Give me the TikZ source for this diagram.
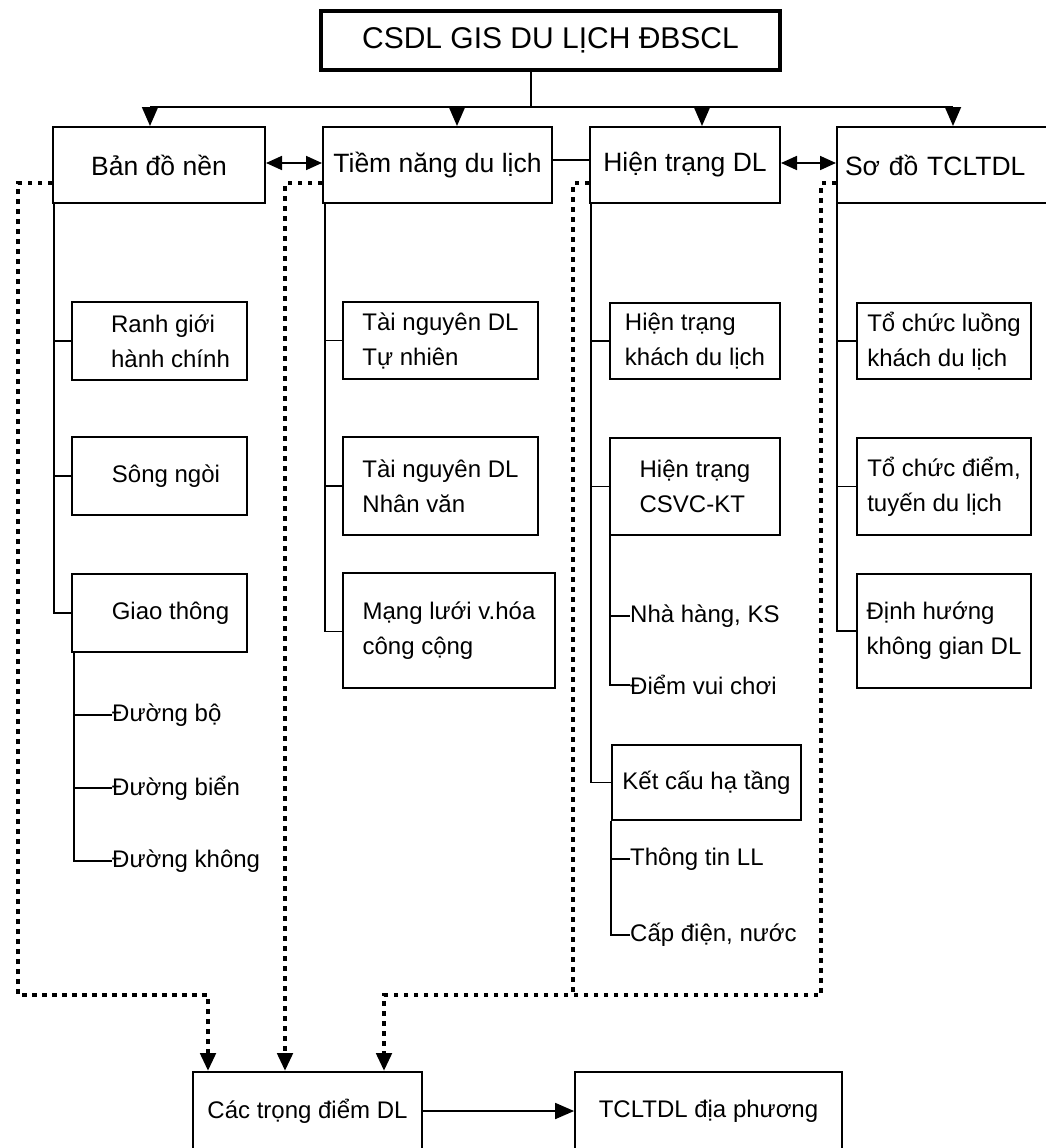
\documentclass[tikz,border=0pt]{standalone}
\usepackage{fontspec}
\setmainfont{Liberation Sans}
\usetikzlibrary{arrows.meta}
\newcommand\indl[1]{\hspace*{#1pt}}

\begin{document}
\begin{tikzpicture}[x=1pt,y=-1pt,
    box/.style={draw, line width=2pt, inner sep=0pt, align=center, font=\fontsize{26.5}{32}\selectfont},
    subbox/.style={draw, line width=1.8pt, inner sep=0pt, align=left, font=\fontsize{24}{35}\selectfont},
    leaf/.style={anchor=west, inner sep=0pt, font=\fontsize{24}{30}\selectfont},
    link/.style={line width=1.8pt},
    arr/.style={line width=1.8pt, -{Triangle[length=19pt,width=16pt]}},
    twoway/.style={line width=1.8pt, {Triangle[length=16pt,width=14pt]}-{Triangle[length=16pt,width=14pt]}},
    dotline/.style={line width=4.5pt, dash pattern=on 4.5pt off 5.5pt},
    dotarr/.style={dotline, -{Triangle[length=18pt,width=15pt]}}]
  \useasboundingbox (0,0) rectangle (1046,1148);
  \clip (0,0) rectangle (1046,1148);

  % Tieu de
  \node[draw, line width=3.5pt, inner sep=0pt, minimum width=459pt, minimum height=59pt,
        font=\fontsize{30}{36}\selectfont] (title) at (550.5,40.5) {CSDL GIS DU LỊCH ĐBSCL};

  % Bon nhom chinh
  \node[box, minimum width=212pt, minimum height=76pt] (bdn) at (159,165) {Bản đồ nền};
  \node[box, minimum width=229pt, minimum height=76pt] (tn) at (437.5,165) {Tiềm năng du lịch};
  \node[box, minimum width=190pt, minimum height=76pt] (ht) at (685,165) {Hiện trạng DL};
  \node[box, minimum width=223pt, minimum height=76pt, text width=207pt, align=left] (sd) at (948.5,165) {Sơ đồ TCLTDL};

  % Cot 1
  \node[subbox, minimum width=175pt, minimum height=78pt] (rg) at (159.5,341) {\indl{22}Ranh giới\\\indl{22}hành chính};
  \node[subbox, minimum width=175pt, minimum height=78pt] (sn) at (159.5,476) {\indl{13}Sông ngòi};
  \node[subbox, minimum width=175pt, minimum height=78pt] (gt) at (159.5,613) {\indl{22}Giao thông};
  \node[leaf] (db) at (112,715) {Đường bộ};
  \node[leaf] (dbi) at (112,788) {Đường biển};
  \node[leaf] (dk) at (112,861) {Đường không};

  % Cot 2
  \node[subbox, minimum width=195pt, minimum height=77pt] (tn1) at (440.5,340.5) {Tài nguyên DL\\Tự nhiên};
  \node[subbox, minimum width=195pt, minimum height=98pt] (tn2) at (440.5,486) {Tài nguyên DL\\Nhân văn};
  \node[subbox, minimum width=212pt, minimum height=115pt] (mv) at (449,630.5) {Mạng lưới v.hóa\\công cộng};

  % Cot 3
  \node[subbox, minimum width=170pt, minimum height=76pt] (hk) at (695,341) {Hiện trạng\\khách du lịch};
  \node[subbox, minimum width=170pt, minimum height=97pt] (hc) at (695,486.5) {Hiện trạng\\CSVC-KT};
  \node[leaf] (nh) at (630,616) {Nhà hàng, KS};
  \node[leaf] (dv) at (630,685) {Điểm vui chơi};
  \node[subbox, minimum width=189pt, minimum height=75pt] (kc) at (706.5,782.5) {Kết cấu hạ tầng};
  \node[leaf] (tt) at (630,859) {Thông tin LL};
  \node[leaf] (cd) at (630,935) {Cấp điện, nước};

  % Cot 4
  \node[subbox, minimum width=174pt, minimum height=76pt] (tc1) at (944,341) {Tổ chức luồng\\khách du lịch};
  \node[subbox, minimum width=174pt, minimum height=97pt] (tc2) at (944,486.5) {Tổ chức điểm,\\tuyến du lịch};
  \node[subbox, minimum width=174pt, minimum height=114pt] (dh) at (944,631) {Định hướng\\không gian DL};

  % Ket qua
  \node[subbox, align=center, minimum width=229pt, minimum height=78pt] (ctd) at (307.5,1111) {Các trọng điểm DL};
  \node[subbox, align=center, minimum width=267pt, minimum height=78pt] (tcl) at (708.5,1111) {TCLTDL địa phương};

  % Thanh phan nhanh tu tieu de
  \coordinate (hub) at (531,107);
  \coordinate (a1) at (150,107);
  \coordinate (a2) at (457,107);
  \coordinate (a3) at (702,107);
  \coordinate (a4) at (953,107);
  \draw[link] (title.south -| hub) -- (hub);
  \draw[link] (a1) -- (a4);
  \draw[arr] (a1) -- (a1 |- bdn.north);
  \draw[arr] (a2) -- (a2 |- tn.north);
  \draw[arr] (a3) -- (a3 |- ht.north);
  \draw[arr] (a4) -- (a4 |- sd.north);

  \draw[twoway] ([yshift=2pt]bdn.east) -- ([yshift=2pt]tn.west);
  \draw[link] ([yshift=5pt]tn.east) -- ([yshift=5pt]ht.west);
  \draw[twoway] ([yshift=2pt]ht.east) -- ([yshift=2pt]sd.west);

  % Cay con
  \draw[link] ([xshift=2pt]bdn.south west) |- (rg.west);
  \draw[link] ([xshift=2pt]bdn.south west) |- (sn.west);
  \draw[link] ([xshift=2pt]bdn.south west) |- (gt.west);
  \draw[link] ([xshift=3pt]gt.south west) |- (db.west);
  \draw[link] ([xshift=3pt]gt.south west) |- (dbi.west);
  \draw[link] ([xshift=3pt]gt.south west) |- (dk.west);

  \draw[link] ([xshift=3pt]tn.south west) |- (tn1.west);
  \draw[link] ([xshift=3pt]tn.south west) |- (tn2.west);
  \draw[link] ([xshift=3pt]tn.south west) |- ([yshift=-1pt]mv.west);

  \draw[link] ([xshift=2pt]ht.south west) |- (hk.west);
  \draw[link] ([xshift=2pt]ht.south west) |- (hc.west);
  \draw[link] ([xshift=2pt]ht.south west) |- (kc.west);
  \draw[link] ([xshift=1pt]hc.south west) |- (nh.west);
  \draw[link] ([xshift=1pt]hc.south west) |- (dv.west);
  \draw[link] (kc.south west) |- (tt.west);
  \draw[link] (kc.south west) |- (cd.west);

  \draw[link] ([xshift=1pt]sd.south west) |- (tc1.west);
  \draw[link] ([xshift=1pt]sd.south west) |- (tc2.west);
  \draw[link] ([xshift=1pt]sd.south west) |- (dh.west);

  % Duong cham
  \coordinate (c1) at (18,995);
  \coordinate (c2) at (285,995);
  \coordinate (c3) at (573,995);
  \coordinate (c4) at (821,995);
  \coordinate (in1) at (208,995);
  \coordinate (in3) at (384,995);
  \draw[dotarr] ([yshift=-18pt]bdn.west) -| (c1) -- (in1) -- (in1 |- ctd.north);
  \draw[dotarr] ([yshift=-18pt]tn.west) -| (c2 |- ctd.north);
  \draw[dotline] ([yshift=-18pt]ht.west) -| (c3);
  \draw[dotarr] ([yshift=-18pt]sd.west) -| (c4) -- (in3) -- (in3 |- ctd.north);

  \draw[arr] (ctd.east) -- (tcl.west);
\end{tikzpicture}
\end{document}
